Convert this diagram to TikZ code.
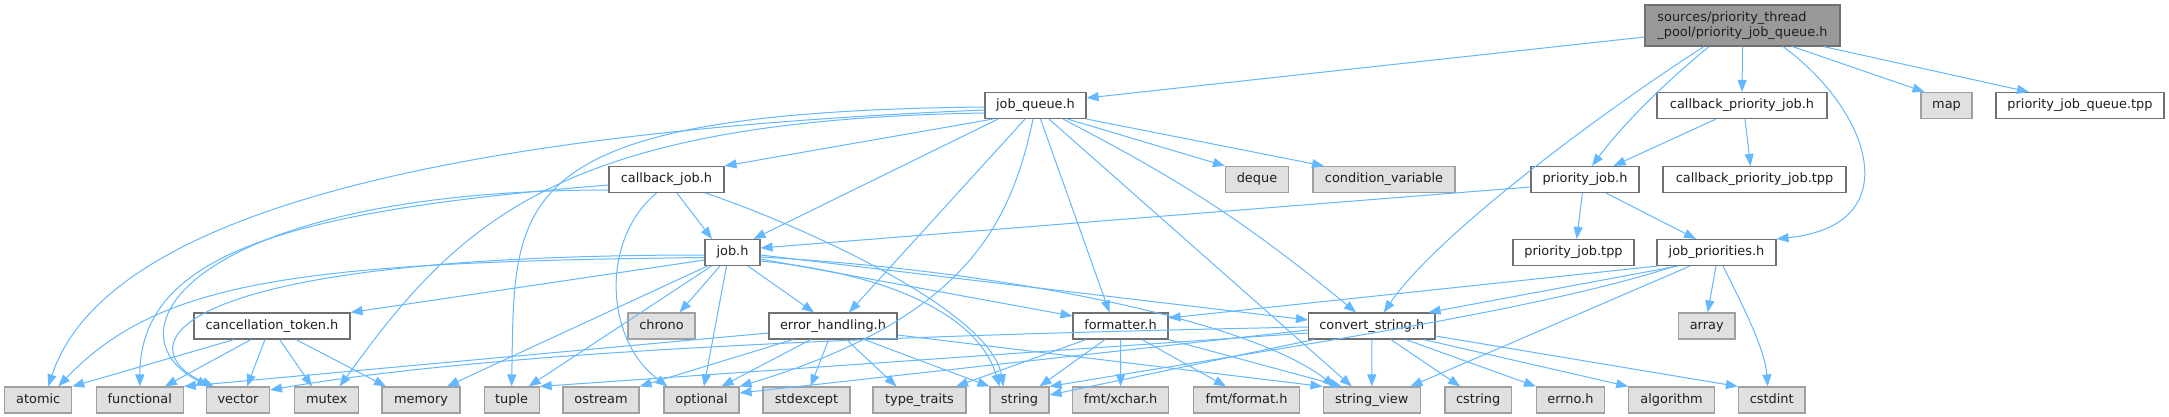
\documentclass[tikz,border=0pt]{standalone}
\usepackage{fontspec}
\newfontfamily\dvs{DejaVu Sans}
\usetikzlibrary{arrows.meta,calc}
\definecolor{eblue}{HTML}{63B8FF}
\definecolor{bd}{HTML}{707070}
\definecolor{lf}{HTML}{E0E0E0}
\definecolor{lb}{HTML}{A0A0A0}
\definecolor{tf}{HTML}{999999}
\begin{document}
\begin{tikzpicture}[x=1pt,y=-1pt,
  nd/.style={draw=bd, line width=1.1pt, inner sep=0pt, minimum height=26pt, text height=9.5pt, text depth=3pt, font={\dvs\fontsize{12.9pt}{15pt}\selectfont}, text=black!88, fill=white},
  sy/.style={nd, draw=lb, fill=lf},
  tp/.style={draw=bd, line width=1.1pt, inner sep=0pt, minimum height=41pt, align=left, font={\dvs\fontsize{12.9pt}{15pt}\selectfont}, text=black!88, fill=tf},
  ed/.style={draw=eblue, line width=1pt, -{Triangle[length=12pt,width=9pt]}},
]
\fill[white] (0,0) rectangle (2169,417);
\useasboundingbox (0,0) rectangle (2169,417);
% row 0
\node[tp, minimum width=195pt] (T) at (1742.5,25.5) {sources/priority\_thread\\\_pool/priority\_job\_queue.h};
% row 1
\node[nd, minimum width=101pt] (jq) at (1035.5,105.5) {job\_queue.h};
\node[nd, minimum width=170pt] (cpj) at (1742,105.5) {callback\_priority\_job.h};
\node[sy, minimum width=51pt] (map) at (1946.5,105.5) {map};
\node[nd, minimum width=168pt] (pjq) at (2080,105.5) {priority\_job\_queue.tpp};
% row 2
\node[nd, minimum width=115pt] (cbj) at (666.5,179.5) {callback\_job.h};
\node[sy, minimum width=63pt] (deque) at (1257,179.5) {deque};
\node[sy, minimum width=142pt] (cv) at (1384,179.5) {condition\_variable};
\node[nd, minimum width=108pt] (pj) at (1585,179.5) {priority\_job.h};
\node[nd, minimum width=183pt] (cpjt) at (1754.5,179.5) {callback\_priority\_job.tpp};
% row 3
\node[nd, minimum width=55pt] (job) at (732.5,252.5) {job.h};
\node[nd, minimum width=121pt] (pjt) at (1573.5,252.5) {priority\_job.tpp};
\node[nd, minimum width=119pt] (jp) at (1716.5,252.5) {job\_priorities.h};
% row 4
\node[nd, minimum width=156pt] (ct) at (272,326) {cancellation\_token.h};
\node[sy, minimum width=67pt] (chrono) at (661.5,326) {chrono};
\node[nd, minimum width=128pt] (eh) at (833,326) {error\_handling.h};
\node[nd, minimum width=95pt] (fm) at (1120.5,326) {formatter.h};
\node[nd, minimum width=126.5pt] (cs) at (1371.75,326) {convert\_string.h};
\node[sy, minimum width=56.5pt] (array) at (1706.7,326) {array};
% row 5
\node[sy, minimum width=67pt] (atomic) at (38.2,400) {atomic};
\node[sy, minimum width=87pt] (functional) at (139.8,400) {functional};
\node[sy, minimum width=63pt] (vector) at (238,400) {vector};
\node[sy, minimum width=64.4pt] (mutex) at (326.6,400) {mutex};
\node[sy, minimum width=78pt] (memory) at (421,400) {memory};
\node[sy, minimum width=55pt] (tuple) at (511.6,400) {tuple};
\node[sy, minimum width=76pt] (ostream) at (601,400) {ostream};
\node[sy, minimum width=75pt] (optional) at (701.5,400) {optional};
\node[sy, minimum width=87pt] (stdexcept) at (806.5,400) {stdexcept};
\node[sy, minimum width=93pt] (tt) at (919.5,400) {type\_traits};
\node[sy, minimum width=59pt] (str) at (1019.5,400) {string};
\node[sy, minimum width=96.4pt] (xchar) at (1120.6,400) {fmt/xchar.h};
\node[sy, minimum width=106pt] (format) at (1246.5,400) {fmt/format.h};
\node[sy, minimum width=97.5pt] (sv) at (1371.8,400) {string\_view};
\node[sy, minimum width=66.5pt] (cstring) at (1478.2,400) {cstring};
\node[sy, minimum width=68pt] (errno) at (1570.5,400) {errno.h};
\node[sy, minimum width=85.7pt] (algorithm) at (1671.6,400) {algorithm};
\node[sy, minimum width=66.5pt] (cstdint) at (1771.7,400) {cstdint};

% edges from top node
\draw[ed] ($(T.west)+(0,11.5)$) -- ($(jq.east)+(0,-7.5)$);
\draw[ed] (T.south) -- (cpj.north);
\draw[ed] ($(T.south)+(50,0)$) -- ($(map.north)+(-22,0)$);
\draw[ed] ($(T.south)+(81,0)$) -- ($(pjq.north)+(-51,0)$);
\draw[ed] ($(T.south)+(-33.5,0)$) .. controls (1650,95) and (1615,135) .. ($(pj.north)+(7,0)$);
\draw[ed] ($(T.south)+(-38.5,0)$) .. controls (1620,100) and (1440,230) .. ($(cs.north)+(12,0)$);
\draw[ed] ($(T.south)+(40.5,0)$) .. controls (1870,110) and (1910,225) .. (jp.north east);
% callback_priority_job.h
\draw[ed] ($(cpj.south)+(-26,0)$) -- ($(pj.north)+(28.5,0)$);
\draw[ed] ($(cpj.south)+(3,0)$) -- ($(cpjt.north)+(-4,0)$);
% priority_job.h
\draw[ed] ($(pj.west)+(0,7.5)$) -- ($(job.east)+(0,-4.5)$);
\draw[ed] ($(pj.south)+(-2.6,0)$) -- ($(pjt.north)+(3.2,0)$);
\draw[ed] ($(pj.south)+(21,0)$) -- ($(jp.north)+(-20.5,0)$);
% job_priorities.h
\draw[ed] ($(jp.south)+(-0.5,0)$) -- ($(array.north)+(1,0)$);
\draw[ed] ($(jp.south)+(6.5,0)$) .. controls (1745,310) and (1765,350) .. ($(cstdint.north)+(-4,0)$);
\draw[ed] ($(jp.south west)+(1,0)$) -- ($(fm.east)+(0,-8)$);
\draw[ed] ($(jp.south)+(-38.5,0)$) -- ($(cs.north east)+(-7,0)$);
\draw[ed] ($(jp.south)+(-41.5,0)$) .. controls (1540,310) and (1300,345) .. (str.north east);
\draw[ed] ($(jp.south)+(-26.5,0)$) -- ($(sv.north)+(38.5,0)$);
% job_queue.h
\draw[ed] ($(jq.south)+(-42.5,0)$) -- (cbj.north east);
\draw[ed] ($(jq.south)+(32,0)$) -- (deque.north west);
\draw[ed] (jq.south east) -- ($(cv.north)+(-60,0)$);
\draw[ed] ($(jq.south)+(-37.5,0)$) -- ($(job.north)+(21,0)$);
\draw[ed] ($(jq.south)+(-10.5,0)$) -- ($(eh.north)+(16,0)$);
\draw[ed] ($(jq.south)+(5,0)$) -- ($(fm.north)+(-11,0)$);
\draw[ed] ($(jq.south)+(13.5,0)$) -- ($(sv.north)+(-20,0)$);
\draw[ed] ($(jq.south)+(27.5,0)$) to[bend left=6] ($(cs.north)+(-15.7,0)$);
\draw[ed] ($(jq.south)+(-2.5,0)$) .. controls (1010,230) and (960,320) .. (optional.north east);
\draw[ed] ($(jq.west)+(0,4.5)$) .. controls (500,130) and (110,200) .. ($(atomic.north)+(10,0)$);
\draw[ed] ($(jq.west)+(0,1.5)$) .. controls (500,112) and (515,200) .. (tuple.north);
\draw[ed] ($(jq.west)+(0,7.5)$) .. controls (560,120) and (460,220) .. ($(mutex.north)+(13,0)$);
% callback_job.h
\draw[ed] ($(cbj.south)+(10.5,0)$) -- ($(job.north)+(-20.5,0)$);
\draw[ed] ($(cbj.south)+(-10,0)$) .. controls (600,240) and (605,340) .. ($(optional.north west)+(4,0)$);
\draw[ed] ($(cbj.south east)+(-19,0)$) .. controls (800,225) and (990,310) .. ($(str.north)+(-16,0)$);
\draw[ed] ($(cbj.west)+(0,5.5)$) .. controls (300,210) and (140,250) .. (functional.north);
\draw[ed] ($(cbj.west)+(0,10.5)$) .. controls (200,190) and (100,330) .. ($(vector.north west)+(3,0)$);
% job.h
\draw[ed] ($(job.west)+(0,2.5)$) .. controls (150,255) and (130,350) .. ($(vector.north west)+(8,0)$);
\draw[ed] ($(job.west)+(0,5)$) .. controls (300,262) and (160,280) .. ($(atomic.north)+(20,0)$);
\draw[ed] ($(job.west)+(0,7.5)$) -- (ct.north east);
\draw[ed] ($(job.south west)+(3,0)$) -- ($(memory.north)+(26,0)$);
\draw[ed] ($(job.south west)+(7,0)$) -- ($(tuple.north)+(17,0)$);
\draw[ed] ($(job.south)+(-12.5,0)$) -- ($(chrono.north)+(18,0)$);
\draw[ed] ($(job.south)+(-6,0)$) -- ($(optional.north)+(2.5,0)$);
\draw[ed] ($(job.south)+(15.5,0)$) -- ($(eh.north)+(-19,0)$);
\draw[ed] ($(job.east)+(0,8.5)$) .. controls (900,275) and (980,320) .. ($(str.north)+(-20,0)$);
\draw[ed] ($(job.east)+(0,6.5)$) -- ($(fm.west)+(0,-10)$);
\draw[ed] ($(job.east)+(0,2.5)$) -- ($(cs.west)+(0,-6)$);
\draw[ed] ($(job.east)+(0,4.5)$) .. controls (1000,270) and (1250,320) .. ($(sv.north)+(-37,0)$);
% cancellation_token.h
\draw[ed] ($(ct.south west)+(40.7,0)$) -- (atomic.north east);
\draw[ed] ($(ct.south)+(-21,0)$) -- ($(functional.north)+(25,0)$);
\draw[ed] ($(ct.south)+(-7,0)$) -- ($(vector.north)+(9,0)$);
\draw[ed] ($(ct.south)+(7.6,0)$) -- ($(mutex.north)+(-14.6,0)$);
\draw[ed] ($(ct.south)+(24,0)$) -- ($(memory.north)+(-35,0)$);
% error_handling.h
\draw[ed] ($(eh.west)+(0,7)$) -- (functional.north east);
\draw[ed] ($(eh.south)+(-40,0)$) -- (ostream.north east);
\draw[ed] ($(eh.south)+(-22.3,0)$) -- ($(optional.north)+(20,0)$);
\draw[ed] ($(eh.south)+(-4.4,0)$) -- ($(stdexcept.north)+(4,0)$);
\draw[ed] ($(eh.south)+(13.4,0)$) -- ($(tt.north)+(-23,0)$);
\draw[ed] ($(eh.south)+(31.3,0)$) -- (str.north west);
\draw[ed] ($(eh.east)+(0,9)$) -- (sv.north west);
% formatter.h
\draw[ed] ($(fm.south)+(-34.5,0)$) -- ($(tt.north)+(36.5,0)$);
\draw[ed] ($(fm.south)+(-15.5,0)$) -- ($(str.north)+(20,0)$);
\draw[ed] (fm.south) -- (xchar.north);
\draw[ed] ($(fm.south)+(21.5,0)$) -- ($(format.north)+(-20.5,0)$);
\draw[ed] (fm.south east) -- ($(sv.north)+(-30,0)$);
% convert_string.h
\draw[ed] (cs.south) -- (sv.north);
\draw[ed] ($(cs.south)+(19,0)$) -- ($(cstring.north)+(-18,0)$);
\draw[ed] ($(cs.south)+(34,0)$) -- (errno.north west);
\draw[ed] ($(cs.south)+(52,0)$) -- (algorithm.north west);
\draw[ed] ($(cs.east)+(0,10)$) -- (cstdint.north west);
\draw[ed] ($(cs.south west)+(6,0)$) -- ($(str.east)+(0,-5)$);
\draw[ed] ($(cs.west)+(0,4)$) -- ($(optional.east)+(0,-7)$);
\draw[ed] ($(cs.west)+(0,7)$) -- (tuple.north east);
\draw[ed] ($(cs.west)+(0,1)$) .. controls (900,335) and (500,350) .. ($(vector.east)+(0,-10)$);
\end{tikzpicture}
\end{document}
